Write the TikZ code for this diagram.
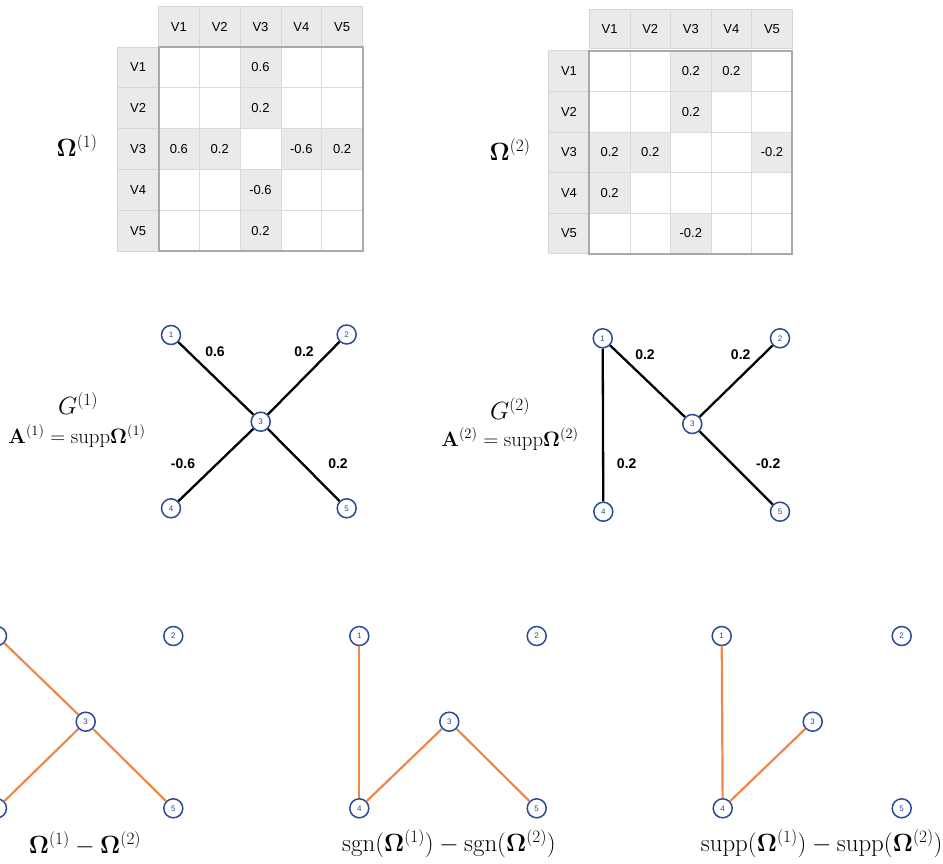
\documentclass[tikz,border=0pt]{standalone}
\usepackage[no-math]{fontspec}
\usepackage{amsmath}
\newfontfamily\hv{Liberation Sans}
\definecolor{hdrfill}{HTML}{EAEAEA}
\definecolor{hdrline}{HTML}{D6D6D6}
\definecolor{cellline}{HTML}{DADADA}
\definecolor{frame}{HTML}{A9A9A9}
\definecolor{navy}{HTML}{2B4A98}
\definecolor{diffedge}{HTML}{F0884A}
\tikzset{
  hdr/.style={draw=hdrline, line width=0.8pt, fill=hdrfill, minimum width=40.8pt,
    minimum height=40.8pt, inner sep=0pt, font=\hv\fontsize{13}{13}\selectfont},
  val/.style={fill=hdrfill, minimum width=40.8pt, minimum height=40.8pt, inner sep=0pt,
    font=\hv\fontsize{13}{13}\selectfont},
  cellrule/.style={draw=cellline, line width=0.8pt},
  outer/.style={draw=frame, line width=2pt},
  vtx/.style={circle, draw=navy, line width=1.5pt, fill=white, minimum size=19pt,
    inner sep=0pt, text=navy, font=\hv\fontsize{8}{8}\selectfont},
  wedge/.style={line width=2.3pt, black},
  dedge/.style={line width=2.2pt, diffedge},
  wlab/.style={font=\hv\bfseries\fontsize{14}{14}\selectfont},
  mlab/.style={font=\fontsize{24}{24}\selectfont},
  blab/.style={font=\fontsize{23.5}{23.5}\selectfont},
  glab/.style={font=\fontsize{27}{27}\selectfont},
  alab/.style={font=\fontsize{20}{20}\selectfont},
}
\begin{document}
\begin{tikzpicture}[x=1pt, y=-1pt]
\useasboundingbox (0,0) rectangle (943,863);
\clip (0,0) rectangle (943,863);

% ---------- matrix Omega(1) ----------
\def\cw{40.8}
\def\xa{158.5}\def\ya{47}
\foreach \i in {1,...,5} {
  \node[hdr] (ma-c\i) at ({\xa+(\i-0.5)*\cw}, {\ya-\cw/2}) {V\i};
  \node[hdr] (ma-r\i) at ({\xa-\cw/2}, {\ya+(\i-0.5)*\cw}) {V\i};
}
\foreach \r/\c/\v in {1/3/0.6, 2/3/0.2, 3/1/0.6, 3/2/0.2, 3/4/-0.6, 3/5/0.2, 4/3/-0.6, 5/3/0.2} {
  \node[val] (ma-\r\c) at ({\xa+(\c-0.5)*\cw}, {\ya+(\r-0.5)*\cw}) {\v};
}
\foreach \k in {1,...,4} {
  \draw[cellrule] ({\xa+\k*\cw}, \ya) -- ({\xa+\k*\cw}, {\ya+5*\cw});
  \draw[cellrule] (\xa, {\ya+\k*\cw}) -- ({\xa+5*\cw}, {\ya+\k*\cw});
}
\draw[outer] (\xa,\ya) rectangle ({\xa+5*\cw}, {\ya+5*\cw});
\node[mlab] (omega1) at (77,146) {$\mathbf{\Omega}^{(1)}$};

% ---------- matrix Omega(2) ----------
\def\cwb{40.6}
\def\xb{589.3}\def\yb{50.7}
\foreach \i in {1,...,5} {
  \node[hdr, minimum width=40.6pt, minimum height=39pt] (mb-c\i) at ({\xb+(\i-0.5)*\cwb}, {\yb-21.4}) {V\i};
  \node[hdr, minimum width=40.6pt, minimum height=40.6pt] (mb-r\i) at ({\xb-\cwb/2}, {\yb+(\i-0.5)*\cwb}) {V\i};
}
\foreach \r/\c/\v in {1/3/0.2, 1/4/0.2, 2/3/0.2, 3/1/0.2, 3/2/0.2, 3/5/-0.2, 4/1/0.2, 5/3/-0.2} {
  \node[val, minimum width=40.6pt, minimum height=40.6pt] (mb-\r\c) at ({\xb+(\c-0.5)*\cwb}, {\yb+(\r-0.5)*\cwb}) {\v};
}
\foreach \k in {1,...,4} {
  \draw[cellrule] ({\xb+\k*\cwb}, \yb) -- ({\xb+\k*\cwb}, {\yb+5*\cwb});
  \draw[cellrule] (\xb, {\yb+\k*\cwb}) -- ({\xb+5*\cwb}, {\yb+\k*\cwb});
}
\draw[outer] (\xb,\yb) rectangle ({\xb+5*\cwb}, {\yb+5*\cwb});
\node[mlab] (omega2) at (510,150) {$\mathbf{\Omega}^{(2)}$};

% ---------- graph G(1) ----------
\node[vtx] (a1) at (171,335) {1};
\node[vtx] (a2) at (346.7,334.5) {2};
\node[vtx] (a3) at (260.7,421.7) {3};
\node[vtx] (a4) at (171,508.3) {4};
\node[vtx] (a5) at (346.7,508.3) {5};
\draw[wedge] (a1) -- (a3);
\draw[wedge] (a2) -- (a3);
\draw[wedge] (a4) -- (a3);
\draw[wedge] (a5) -- (a3);
\node[wlab] (wa13) at (215,352) {0.6};
\node[wlab] (wa23) at (304,352) {0.2};
\node[wlab] (wa34) at (183,464) {-0.6};
\node[wlab] (wa35) at (338,464) {0.2};
\node[glab] (g1) at (78,404) {$G^{(1)}$};
\node[alab] (adj1) at (77,436) {$\mathbf{A}^{(1)}=\mathrm{supp}\mathbf{\Omega}^{(1)}$};

% ---------- graph G(2) ----------
\node[vtx] (b1) at (602.7,338.3) {1};
\node[vtx] (b2) at (780,338.3) {2};
\node[vtx] (b3) at (692.3,424) {3};
\node[vtx] (b4) at (603.3,511.7) {4};
\node[vtx] (b5) at (780,511.7) {5};
\draw[wedge] (b1) -- (b4);
\draw[wedge] (b1) -- (b3);
\draw[wedge] (b2) -- (b3);
\draw[wedge] (b3) -- (b5);
\node[wlab] (wb13) at (645,355) {0.2};
\node[wlab] (wb23) at (740.7,355) {0.2};
\node[wlab] (wb14) at (626.7,464) {0.2};
\node[wlab] (wb35) at (768.3,464) {-0.2};
\node[glab] (g2) at (510,409) {$G^{(2)}$};
\node[alab] (adj2) at (510,439) {$\mathbf{A}^{(2)}=\mathrm{supp}\mathbf{\Omega}^{(2)}$};

% ---------- difference of precision matrices ----------
\node[vtx] (c1) at (-3,636) {1};
\node[vtx] (c2) at (173.3,636) {2};
\node[vtx] (c3) at (85.7,721.7) {3};
\node[vtx] (c4) at (-3,808.3) {4};
\node[vtx] (c5) at (173.3,808.3) {5};
\draw[dedge] (c1) -- (c3);
\draw[dedge] (c4) -- (c3);
\draw[dedge] (c3) -- (c5);
\node[blab] (diff) at (85,844) {$\mathbf{\Omega}^{(1)}-\mathbf{\Omega}^{(2)}$};

% ---------- difference of signs ----------
\node[vtx] (d1) at (359.3,636) {1};
\node[vtx] (d2) at (536.7,636) {2};
\node[vtx] (d3) at (449.3,721.7) {3};
\node[vtx] (d4) at (359.3,808.3) {4};
\node[vtx] (d5) at (536.7,808.3) {5};
\draw[dedge] (d1) -- (d4);
\draw[dedge] (d4) -- (d3);
\draw[dedge] (d3) -- (d5);
\node[blab] (sgndiff) at (449,844) {$\mathrm{sgn}(\mathbf{\Omega}^{(1)})-\mathrm{sgn}(\mathbf{\Omega}^{(2)})$};

% ---------- difference of supports ----------
\node[vtx] (e1) at (721.7,636) {1};
\node[vtx] (e2) at (901.7,636) {2};
\node[vtx] (e3) at (812.7,721.7) {3};
\node[vtx] (e4) at (722.7,808.3) {4};
\node[vtx] (e5) at (901.7,808.3) {5};
\draw[dedge] (e1) -- (e4);
\draw[dedge] (e4) -- (e3);
\node[blab] (suppdiff) at (821.7,844) {$\mathrm{supp}(\mathbf{\Omega}^{(1)})-\mathrm{supp}(\mathbf{\Omega}^{(2)})$};
\end{tikzpicture}
\end{document}
